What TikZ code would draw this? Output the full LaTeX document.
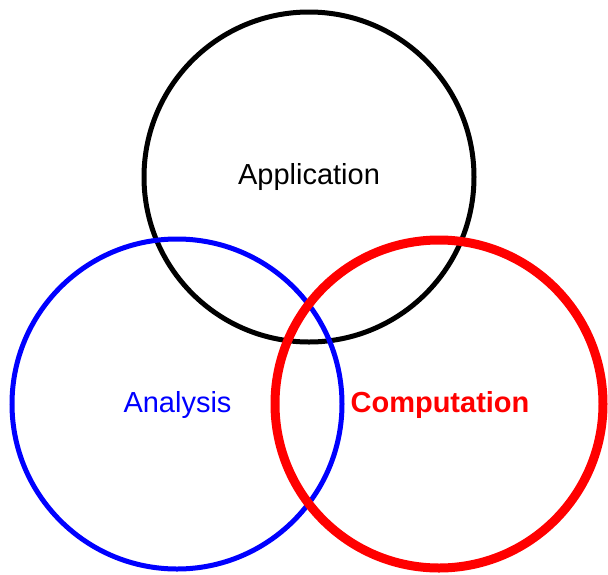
\documentclass[tikz,border=0pt]{standalone}
\usepackage{fontspec}
\setmainfont{Liberation Sans}
\begin{document}
\begin{tikzpicture}[x=1pt,y=-1pt,
  ring/.style={line width=#1},
  lbl/.style={anchor=base,inner sep=0pt,font=\fontsize{29}{34}\selectfont}]
\useasboundingbox (0,0) rectangle (608,574);
\draw[ring=5pt,black] (309,177) circle (165);
\draw[ring=5pt,blue] (177,404) circle (165);
\draw[ring=9pt,red] (439,404) circle (164);
\node[lbl,black] (app) at (309,184) {Application};
\node[lbl,blue] (ana) at (177.5,412) {Analysis};
\node[lbl,red,font=\fontsize{29}{34}\selectfont\bfseries] (comp) at (440,412) {Computation};
\end{tikzpicture}
\end{document}
